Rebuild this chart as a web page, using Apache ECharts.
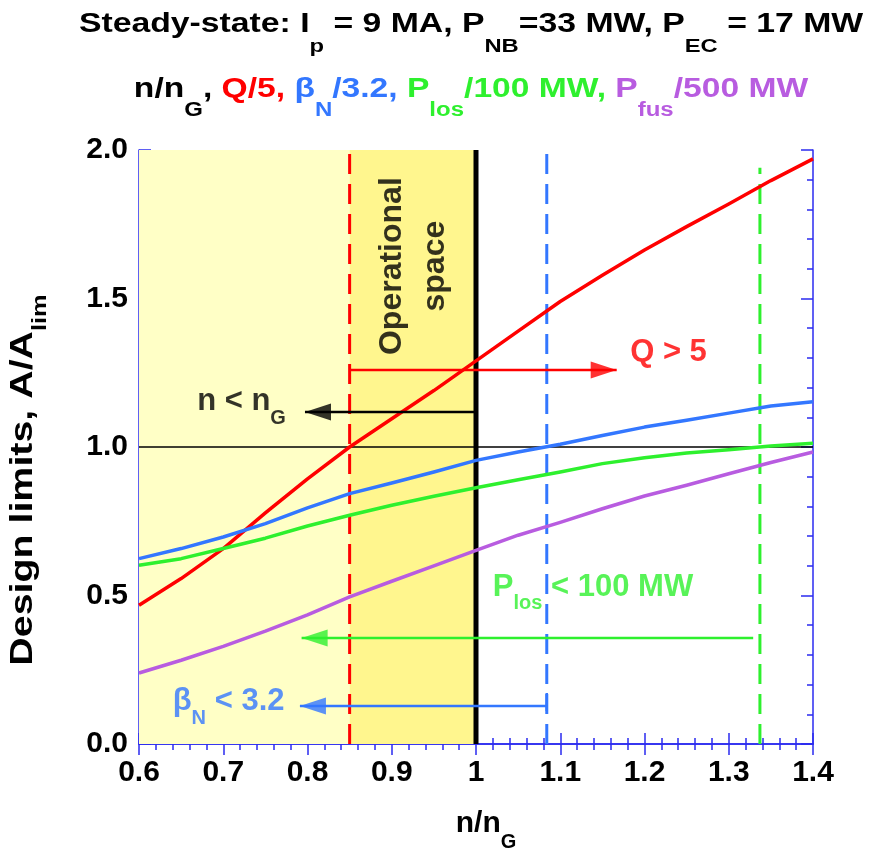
<!DOCTYPE html>
<html><head><meta charset="utf-8">
<script src="https://cdn.jsdelivr.net/npm/echarts@6/dist/echarts.min.js"></script>
<style>html,body{margin:0;padding:0;background:#fff}#c{width:869px;height:849px}</style>
</head><body><div id="c"></div>
<script>
// ---- data ----
const xs     = [0.6,0.65,0.7,0.75,0.8,0.85,0.9,0.95,1.0,1.05,1.1,1.15,1.2,1.25,1.3,1.35,1.4];
const qOver5 = [0.467,0.557,0.658,0.778,0.893,1.0,1.095,1.19,1.29,1.39,1.49,1.578,1.663,1.742,1.818,1.897,1.97];
const betaN  = [0.624,0.658,0.697,0.742,0.795,0.843,0.879,0.916,0.955,0.983,1.009,1.039,1.067,1.09,1.114,1.138,1.152];
const pLoss  = [0.602,0.624,0.658,0.693,0.734,0.770,0.804,0.834,0.863,0.89,0.916,0.944,0.964,0.98,0.991,1.003,1.013];
const pFus   = [0.239,0.282,0.329,0.380,0.435,0.495,0.548,0.60,0.652,0.703,0.746,0.792,0.835,0.871,0.91,0.948,0.983];

const lowDensityBand = [0.6, 0.85];
const opSpaceBand    = [0.85, 1.0];
const qLimitX = 0.85, betaLimitX = 1.084, lossLimitX = 1.337, lossLimitTop = 1.94, greenwaldX = 1.0;
const unityY = 1.0;
// arrows: [fromX, tipX, y]
const arrowQ    = [0.85, 1.167, 1.259];
const arrowN    = [1.0, 0.797, 1.118];
const arrowLoss = [1.329, 0.793, 0.357];
const arrowBeta = [1.084, 0.791, 0.128];
const betaCap   = [0.111, 0.172];

// ---- styles ----
const FF = '"Liberation Sans", Arial, sans-serif';
const AX = '#2b2bf0';
const RED = '#ff0000', BLUE = '#3377ff', GREEN = '#2ef02e', PURPLE = '#b85ce0';

const pts = ys => xs.map((x, i) => [x, ys[i]]);

function curve(name, ys, color) {
  return {name, type:'line', data: pts(ys), smooth: false, showSymbol:false, z:5,
    lineStyle:{color, width:3.5, join:'round'}, animation:false};
}
function seg(data, color, width, type, z) {
  return {type:'line', data, showSymbol:false, z: z||3, animation:false,
    lineStyle:{color, width, type: type||'solid'}};
}
function dashed(x, top, color) {
  return seg([[x,0],[x,top]], color, 3, [20,10], 3);
}
function head(tipX, y, color, dir) {
  return {type:'scatter', data:[[tipX, y]], symbol:'triangle', symbolSize:[17,26],
    symbolRotate: dir < 0 ? 90 : -90, symbolOffset: [dir < 0 ? 13 : -13, 0],
    itemStyle:{color}, z:6, animation:false, silent:true};
}
function richSet(color, main, sub, pad) {
  return {
    m:{fontFamily:FF, fontWeight:'bold', fontSize:main, color, lineHeight:34, verticalAlign:'top'},
    s:{fontFamily:FF, fontWeight:'bold', fontSize:sub, color, lineHeight:34, verticalAlign:'top', padding:[pad||22,0,0,0]}
  };
}
function note(x, y, text, color) {
  return {type:'scatter', data:[[x,y]], symbolSize:0, z:7, animation:false, silent:true,
    label:{show:true, position:'right', distance:0, verticalAlign:'top', align:'left', offset:[0,-17],
      formatter:text, rich: richSet(color, 31, 20, 22)}};
}

const fmtX = v => Math.abs(v-1) < 1e-9 ? '1' : v.toFixed(1);
const tickLbl = {fontFamily:FF, fontWeight:'bold', fontSize:30, color:'#000'};

const option = {
  animation:false,
  grid:{left:139, right:56, top:150, bottom:105, containLabel:false, outerBoundsMode:'none'},
  xAxis:[
    {type:'value', min:0.6, max:1.4, interval:0.1, position:'bottom',
     axisLine:{lineStyle:{color:AX, width:1.5}},
     axisTick:{inside:true, length:11, lineStyle:{color:AX, width:1.5}},
     minorTick:{show:true, splitNumber:5, length:6, lineStyle:{color:AX, width:1.5}},
     splitLine:{show:false},
     axisLabel:Object.assign({margin:14, formatter:fmtX}, tickLbl),
     name:'{m|n/n}{s|G}', nameLocation:'middle', nameGap:65,
     nameTextStyle:{padding:[0,0,0,20], rich: richSet('#000', 30, 20, 23)}},
    {type:'value', min:0.6, max:1.4, interval:0.1, position:'top',
     axisLine:{lineStyle:{color:AX, width:1.5}},
     axisTick:{inside:true, length:11, lineStyle:{color:AX, width:1.5}},
     minorTick:{show:true, splitNumber:5, length:6, lineStyle:{color:AX, width:1.5}},
     splitLine:{show:false}, axisLabel:{show:false}}
  ],
  yAxis:[
    {type:'value', min:0, max:2, interval:0.5, position:'left',
     axisLine:{lineStyle:{color:AX, width:1.5}},
     axisTick:{inside:true, length:12, lineStyle:{color:AX, width:1.5}},
     minorTick:{show:true, splitNumber:5, length:6, lineStyle:{color:AX, width:1.5}},
     splitLine:{show:false},
     axisLabel:Object.assign({margin:11, formatter:v => v.toFixed(1)}, tickLbl)},
    {type:'value', min:0, max:2, interval:0.5, position:'right',
     axisLine:{lineStyle:{color:AX, width:1.5}},
     axisTick:{inside:true, length:12, lineStyle:{color:AX, width:1.5}},
     minorTick:{show:true, splitNumber:5, length:6, lineStyle:{color:AX, width:1.5}},
     splitLine:{show:false}, axisLabel:{show:false}}
  ],
  graphic:[
    {type:'text', x:471, y:11, scaleX:1.25, z:10, style:{
      text:'{m|Steady-state: I}{s|p}{m| = 9 MA, P}{s|NB}{m|=33 MW, P}{s|EC}{m| = 17 MW}',
      align:'center', verticalAlign:'top',
      rich:{m:{fontFamily:FF, fontWeight:'bold', fontSize:27, fill:'#000', lineHeight:30, verticalAlign:'top'},
            s:{fontFamily:FF, fontWeight:'bold', fontSize:19, fill:'#000', lineHeight:30, verticalAlign:'top', padding:[26,0,0,0]}}}},
    {type:'text', x:471, y:75, scaleX:1.2, z:10, style:{
      text:'{k|n/n}{ks|G}{k|, }{r|Q/5, }{b|β}{bs|N}{b|/3.2, }{g|P}{gs|los}{g|/100 MW, }{p|P}{ps|fus}{p|/500 MW}',
      align:'center', verticalAlign:'top',
      rich:(function(){
        const o = {};
        [['k','#000'],['r',RED],['b',BLUE],['g',GREEN],['p',PURPLE]].forEach(([k,c])=>{
          o[k] = {fontFamily:FF, fontWeight:'bold', fontSize:28, fill:c, lineHeight:30, verticalAlign:'top'};
          o[k+'s'] = {fontFamily:FF, fontWeight:'bold', fontSize:20, fill:c, lineHeight:30, verticalAlign:'top', padding:[25,0,0,0]};
        });
        return o;
      })()}},
    {type:'text', x:8, y:480, rotation:Math.PI/2, scaleX:1.27, z:10, style:{
      text:'{m|Design limits, A/A}{s|lim}', align:'center', verticalAlign:'top',
      rich:{m:{fontFamily:FF, fontWeight:'bold', fontSize:31, fill:'#000', lineHeight:34, verticalAlign:'top'},
            s:{fontFamily:FF, fontWeight:'bold', fontSize:20, fill:'#000', lineHeight:34, verticalAlign:'top', padding:[22,0,0,0]}}}}
  ],
  series:[
    {type:'line', data:[], z:1, animation:false, silent:true,
     markArea:{silent:true, data:[
       [{xAxis:lowDensityBand[0], itemStyle:{color:'#ffffc6'}}, {xAxis:lowDensityBand[1]}],
       [{xAxis:opSpaceBand[0], itemStyle:{color:'#fff68e'}}, {xAxis:opSpaceBand[1]}]
     ]}},
    seg([[xs[0], unityY],[xs[xs.length-1], unityY]], '#000', 1.5, 'solid', 2),
    dashed(qLimitX, 2, RED),
    dashed(betaLimitX, 2, BLUE),
    dashed(lossLimitX, lossLimitTop, GREEN),
    seg([[greenwaldX,0],[greenwaldX,2]], '#000', 5, 'solid', 4),
    curve('Q/5', qOver5, RED),
    curve('betaN/3.2', betaN, BLUE),
    curve('Ploss/100MW', pLoss, GREEN),
    curve('Pfus/500MW', pFus, PURPLE),
    seg([[arrowQ[0],arrowQ[2]],[arrowQ[1],arrowQ[2]]], RED, 2.5, 'solid', 6),
    head(arrowQ[1], arrowQ[2], RED, 1),
    seg([[arrowN[0],arrowN[2]],[arrowN[1],arrowN[2]]], '#000', 2.5, 'solid', 6),
    head(arrowN[1], arrowN[2], '#000', -1),
    seg([[arrowLoss[0],arrowLoss[2]],[arrowLoss[1],arrowLoss[2]]], GREEN, 2.5, 'solid', 6),
    head(arrowLoss[1], arrowLoss[2], GREEN, -1),
    seg([[arrowBeta[0],arrowBeta[2]],[arrowBeta[1],arrowBeta[2]]], BLUE, 2.5, 'solid', 6),
    seg([[arrowBeta[0],betaCap[0]],[arrowBeta[0],betaCap[1]]], BLUE, 2.5, 'solid', 6),
    head(arrowBeta[1], arrowBeta[2], BLUE, -1),
    note(1.183, 1.313, '{m|Q > 5}', RED),
    note(0.669, 1.148, '{m|n < n}{s|G}', '#000'),
    note(1.020, 0.522, '{m|P}{s|los}{m| < 100 MW}', GREEN),
    note(0.640, 0.138, '{m|β}{s|N}{m| < 3.2}', BLUE),
    {type:'scatter', data:[[0.926, 1.609]], symbolSize:0, z:7, animation:false, silent:true,
     label:{show:true, position:'inside', rotate:90, align:'center', verticalAlign:'middle',
       formatter:'Operational\nspace', fontFamily:FF, fontWeight:'bold', fontSize:32, lineHeight:43, color:'#000'}}
  ]
};
const chart = echarts.init(document.getElementById('c'), null, {renderer:'canvas'});
chart.setOption(option);
</script></body></html>
